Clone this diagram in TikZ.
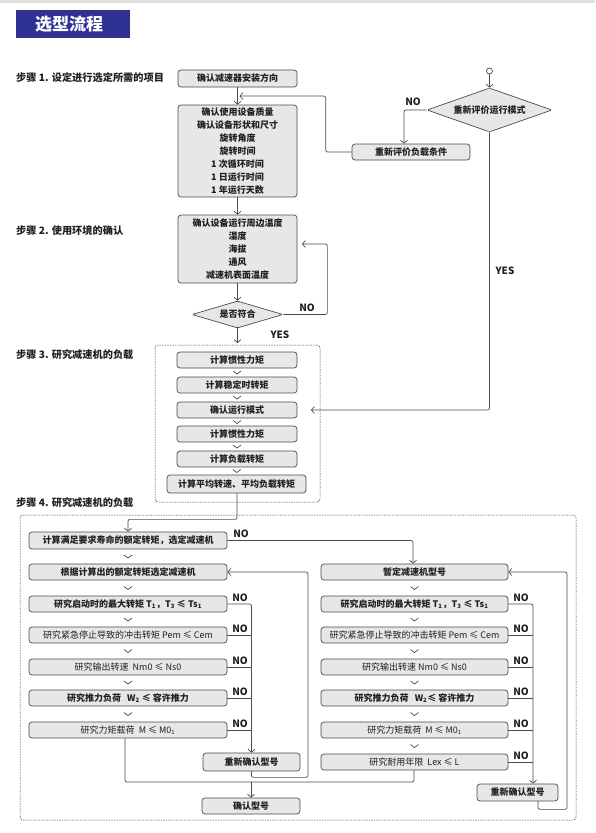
\documentclass[tikz,border=0pt]{standalone}
\usepackage{fontspec}
\setmainfont{Noto Sans CJK SC}
\usetikzlibrary{arrows.meta,shapes.geometric,calc}
\definecolor{titleC}{RGB}{46,49,146}
\definecolor{boxC}{RGB}{230,231,232}
\definecolor{lineC}{RGB}{75,75,75}
\definecolor{txtC}{RGB}{35,31,32}
\newcommand\chevmark[2]{\draw[chev] ($(#1.south)!0.5!(#2.north)+(-4,-1.5)$) -- ($(#1.south)!0.5!(#2.north)+(0,1.5)$) -- ($(#1.south)!0.5!(#2.north)+(4,-1.5)$);}
\begin{document}
\begin{tikzpicture}[x=1pt,y=-1pt,
  >={Straight Barb[length=3pt,width=7pt]},
  box/.style={draw=lineC, fill=boxC, rounded corners=3pt, line width=0.7pt, inner sep=0pt, text=txtC, font=\bfseries\fontsize{9}{11}\selectfont, minimum height=16pt, align=center},
  boxr/.style={box, font=\fontsize{9}{11}\selectfont},
  conn/.style={draw=lineC, line width=0.7pt, rounded corners=2pt},
  chev/.style={draw=lineC, line width=0.7pt},
  lbl/.style={font=\bfseries\fontsize{10}{12}\selectfont, text=txtC, inner sep=0pt},
  steplbl/.style={font=\bfseries\fontsize{10.2}{12}\selectfont, text=txtC, anchor=west, inner sep=0pt},
  dbox/.style={draw=lineC, dash pattern=on 1.6pt off 1pt, line width=0.5pt, rounded corners=3pt, inner sep=0pt},
  dia/.style={draw=lineC, fill=boxC, diamond, inner sep=0pt, line width=0.7pt, text=txtC, font=\bfseries\fontsize{9}{11}\selectfont, rounded corners=1.5pt}
]
\useasboundingbox (0,0) rectangle (595,833);
\fill[gray!25] (0,0) rectangle (595,2.5);

% title
\node[fill=titleC, minimum width=114pt, minimum height=28pt, inner sep=0pt] (title) at (73,24) {};
\node[text=white, font=\bfseries\fontsize{17}{20}\selectfont, inner sep=0pt] (titletext) at (69,24) {选型流程};

% step labels
\node[steplbl] (st1) at (16,78) {步骤 1. 设定进行选定所需的项目};
\node[steplbl] (st2) at (16,231) {步骤 2. 使用环境的确认};
\node[steplbl] (st3) at (16,355) {步骤 3. 研究减速机的负载};
\node[steplbl] (st4) at (16,503) {步骤 4. 研究减速机的负载};

% step 1
\node[box, minimum width=119pt, minimum height=17pt] (b1) at (237.5,78.5) {确认减速器安装方向};
\node[box, minimum width=119pt, minimum height=92pt, font=\bfseries\fontsize{9}{13}\selectfont] (b2) at (237.5,151) {确认使用设备质量\\确认设备形状和尺寸\\旋转角度\\旋转时间\\1 次循环时间\\1 日运行时间\\1 年运行天数};
\node[box, minimum width=118pt] (rev) at (411,152) {重新评价负载条件};
\node[dia, shape aspect=2.84, minimum width=125pt, minimum height=44pt] (d1) at (489.5,110) {重新评价运行模式};
\node[circle, draw=lineC, line width=0.7pt, minimum size=6pt, inner sep=0pt, fill=white] (st) at (489.5,71) {};

% step 2
\node[box, minimum width=119pt, minimum height=68pt, font=\bfseries\fontsize{9}{13}\selectfont] (b3) at (237.5,249) {确认设备运行周边温度\\湿度\\海拔\\通风\\减速机表面温度};
\node[dia, shape aspect=3.37, minimum width=91pt, minimum height=27pt] (d2) at (237.5,314.5) {是否符合};

% step 3
\node[dbox, minimum width=165pt, minimum height=157pt] (g3) at (237.5,423.5) {};
\node[box, minimum width=120pt] (s1) at (237,360) {计算惯性力矩};
\node[box, minimum width=120pt] (s2) at (237,385) {计算稳定时转矩};
\node[box, minimum width=120pt] (s3) at (237,410) {确认运行模式};
\node[box, minimum width=120pt] (s4) at (237,434) {计算惯性力矩};
\node[box, minimum width=120pt] (s5) at (237,459) {计算负载转矩};
\node[box, minimum width=139pt, minimum height=18pt] (s6) at (236.5,484) {计算平均转速、平均负载转矩};

% step 4
\node[dbox, minimum width=556pt, minimum height=305pt] (g4) at (298,667.5) {};
\node[box, minimum width=198pt, minimum height=17pt] (L0) at (128,540.5) {计算满足要求寿命的额定转矩，选定减速机};
\node[box, minimum width=198pt] (L1) at (128,572) {根据计算出的额定转矩选定减速机};
\node[box, minimum width=198pt] (L2) at (128,604) {研究启动时的最大转矩 T\textsubscript{1}，T\textsubscript{3} ≤ Ts\textsubscript{1}};
\node[boxr, minimum width=198pt] (L3) at (128,635) {研究紧急停止导致的冲击转矩 Pem ≤ Cem};
\node[boxr, minimum width=198pt] (L4) at (128,667) {研究输出转速\ \ Nm0 ≤ Ns0};
\node[box, minimum width=198pt] (L5) at (128,698) {研究推力负荷\ \ \ W\textsubscript{2} ≤ 容许推力};
\node[boxr, minimum width=198pt] (L6) at (128,730) {研究力矩载荷\ \ M ≤ M0\textsubscript{1}};
\node[box, minimum width=97pt, minimum height=18pt] (Lre) at (251.5,762) {重新确认型号};
\node[box, minimum width=98pt] (Lok) at (251,806) {确认型号};

\node[box, minimum width=187pt] (R1) at (414.5,572) {暂定减速机型号};
\node[box, minimum width=187pt] (R2) at (414.5,604) {研究启动时的最大转矩 T\textsubscript{1}，T\textsubscript{3} ≤ Ts\textsubscript{1}};
\node[boxr, minimum width=187pt] (R3) at (414.5,635) {研究紧急停止导致的冲击转矩 Pem ≤ Cem};
\node[boxr, minimum width=187pt] (R4) at (414.5,667) {研究输出转速 Nm0 ≤ Ns0};
\node[box, minimum width=187pt] (R5) at (414.5,698) {研究推力负荷\ \ \ W\textsubscript{2}≤ 容许推力};
\node[boxr, minimum width=187pt] (R6) at (414.5,730) {研究力矩载荷\ \ M ≤ M0\textsubscript{1}};
\node[boxr, minimum width=187pt] (R7) at (414.5,762) {研究耐用年限\ \ Lex ≤ L};
\node[box, minimum width=81pt, minimum height=17pt] (Rre) at (517.5,792.5) {重新确认型号};

% ---- connectors step 1/2
\draw[conn,->] (b1.south) -- (b2.north);
\coordinate (j1) at (239.5,96);
\draw[conn,->] (rev.west) -- ++(-26,0) |- (j1);
\draw[conn,->] (st) -- (d1.north);
\draw[conn,->] (d1.west) -| ([xshift=-7pt]rev.north);
\node[lbl] (no1) at (413,102) {NO};
\coordinate (j2) at (311,410);
\draw[conn,->] (d1.south) |- (j2);
\node[lbl] (yes1) at (505,271) {YES};
\draw[conn,->] (b2.south) -- (b3.north);
\draw[conn,->] (b3.south) -- (d2.north);
\coordinate (j3) at (302,244);
\draw[conn,->] (d2.east) -- ++(44,0) |- (j3);
\node[lbl] (no2) at (307,308) {NO};
\coordinate (j4) at (237.5,343);
\draw[conn,->] (d2.south) -- (j4);
\node[lbl] (yes2) at (280,335) {YES};

% step 3 chevrons
\chevmark{s1}{s2}
\chevmark{s2}{s3}
\chevmark{s3}{s4}
\chevmark{s4}{s5}
\chevmark{s5}{s6}
\draw[conn,->] ([xshift=0.5pt]s6.south) -- ++(0,26) -| (L0.north);

% step 4 left
\draw[conn,->] (L0.east) -| ([xshift=-1.5pt]R1.north);
\node[lbl] (no3) at (241,534) {NO};
\chevmark{L0}{L1}
\chevmark{L1}{L2}
\chevmark{L2}{L3}
\chevmark{L3}{L4}
\chevmark{L4}{L5}
\chevmark{L5}{L6}
\draw[conn,->] (L2.east) -| (Lre.north);
\draw[conn] (L3.east) -- (L3.east -| Lre.north);
\draw[conn] (L4.east) -- (L4.east -| Lre.north);
\draw[conn] (L5.east) -- (L5.east -| Lre.north);
\draw[conn] (L6.east) -- (L6.east -| Lre.north);
\node[lbl] (nl2) at (240,597.5) {NO};
\node[lbl] (nl3) at (240,628.5) {NO};
\node[lbl] (nl4) at (240,660.5) {NO};
\node[lbl] (nl5) at (240,691.5) {NO};
\node[lbl] (nl6) at (240,723.5) {NO};
\draw[conn,->] (Lre.south) -- ++(0,6) -| (308,572) -- (L1.east);
\coordinate (m) at (251,782);
\draw[conn] ([xshift=-3pt]L6.south) |- (m);
\draw[conn] ([xshift=-0.5pt]R7.south) |- (m);
\draw[conn,->] (m) -- (Lok.north);

% step 4 right
\chevmark{R1}{R2}
\chevmark{R2}{R3}
\chevmark{R3}{R4}
\chevmark{R4}{R5}
\chevmark{R5}{R6}
\chevmark{R6}{R7}
\coordinate (rbx) at (533,0);
\draw[conn,->] (R2.east) -| ([xshift=15.5pt]Rre.north);
\draw[conn] (R3.east) -- (R3.east -| rbx);
\draw[conn] (R4.east) -- (R4.east -| rbx);
\draw[conn] (R5.east) -- (R5.east -| rbx);
\draw[conn] (R6.east) -- (R6.east -| rbx);
\draw[conn] (R7.east) -- (R7.east -| rbx);
\node[lbl] (nr2) at (521,597.5) {NO};
\node[lbl] (nr3) at (521,628.5) {NO};
\node[lbl] (nr4) at (521,660.5) {NO};
\node[lbl] (nr5) at (521,691.5) {NO};
\node[lbl] (nr6) at (521,723.5) {NO};
\node[lbl] (nr7) at (521,755.5) {NO};
\draw[conn,->] ([xshift=20.5pt]Rre.south) -- ++(0,8) -| (567,572) -- (R1.east);
\end{tikzpicture}
\end{document}
